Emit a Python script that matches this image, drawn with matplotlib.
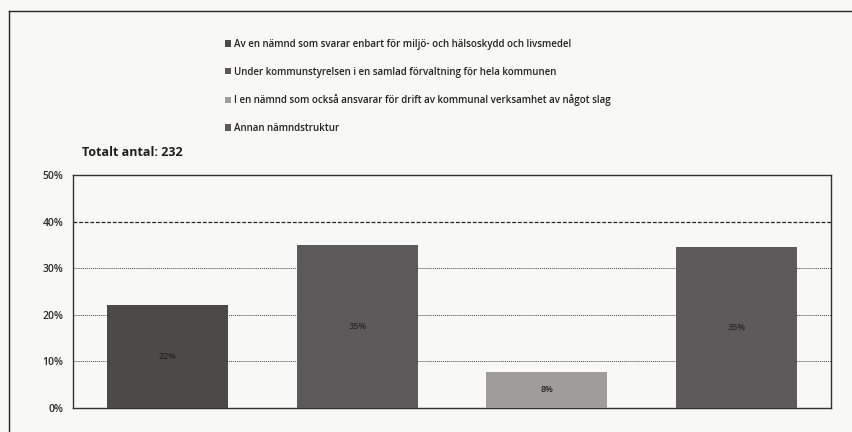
import numpy as np
import matplotlib.pyplot as plt
from matplotlib.lines import Line2D

# Data
categories = [
    'Av en nämnd som svarar enbart för miljö- och hälsoskydd och livsmedel',
    'Under kommunstyrelsen i en samlad förvaltning för hela kommunen',
    'I en nämnd som också ansvarar för drift av kommunal verksamhet av något slag',
    'Annan nämndstruktur',
]
shares = [22.1, 34.9, 7.8, 34.6]
bar_labels = ['22%', '35%', '8%', '35%']
yticks = [0, 10, 20, 30, 40, 50]
title = 'Totalt antal: 232'

colors = ['#4d4949', '#5d595a', '#a09c9c', '#5e5a5b']
paper = '#f8f8f6'

plt.rcParams['font.family'] = ['Open Sans', 'DejaVu Sans']

fig = plt.figure(figsize=(8.53, 4.32), dpi=100, facecolor=paper)
ax = fig.add_axes([73 / 853, 24 / 432, 758 / 853, 233 / 432])
ax.set_facecolor(paper)

x = np.arange(len(categories))
bars = ax.bar(x, shares, width=0.64, color=colors, zorder=3)

for xi, val, lab in zip(x, shares, bar_labels):
    ax.text(xi, val / 2, lab, ha='center', va='center', fontsize=6.5,
            fontweight='semibold', color='#262525', zorder=4)

ax.set_xlim(-0.5, len(categories) - 0.5)
ax.set_ylim(0, 50)
ax.set_xticks([])
ax.set_yticks(yticks)
ax.set_yticklabels([f'{t}%' for t in yticks], fontsize=7.5, fontweight='semibold',
                   color='#2a2a2a')
ax.tick_params(axis='y', length=0, pad=7)

# gridlines: dotted, the 40% line is dashed and heavier
ax.grid(axis='y', linestyle=(0, (1, 1)), color='#444444', linewidth=0.7, zorder=1)
ax.set_axisbelow(True)
for t, gl in zip(yticks, ax.get_ygridlines()):
    if t == 40:
        gl.set_linestyle((0, (3, 1.5)))
        gl.set_linewidth(0.9)
        gl.set_color('#222222')

for s in ax.spines.values():
    s.set_color('#333333')
    s.set_linewidth(1.0)

fig.text(82 / 853, 1 - 152 / 432, title, fontsize=9, fontweight='bold',
         color='#1f1f1f', va='center', ha='left')

leg = fig.legend(bars, categories, loc='upper left',
                 bbox_to_anchor=(221 / 853, 1 - 35 / 432), frameon=False,
                 fontsize=7, handlelength=0.6, handleheight=0.6,
                 handletextpad=0.35, labelspacing=1.72, borderaxespad=0)
for txt in leg.get_texts():
    txt.set_fontweight('semibold')
    txt.set_color('#222222')

# page frame from the scan
fig.add_artist(Line2D([9 / 853, 9 / 853], [0, 1 - 11 / 432],
                      transform=fig.transFigure, color='#222222', lw=1.0))
fig.add_artist(Line2D([9 / 853, 1], [1 - 11 / 432, 1 - 11 / 432],
                      transform=fig.transFigure, color='#222222', lw=1.0))

plt.savefig('out.png', dpi=100, facecolor=paper)
